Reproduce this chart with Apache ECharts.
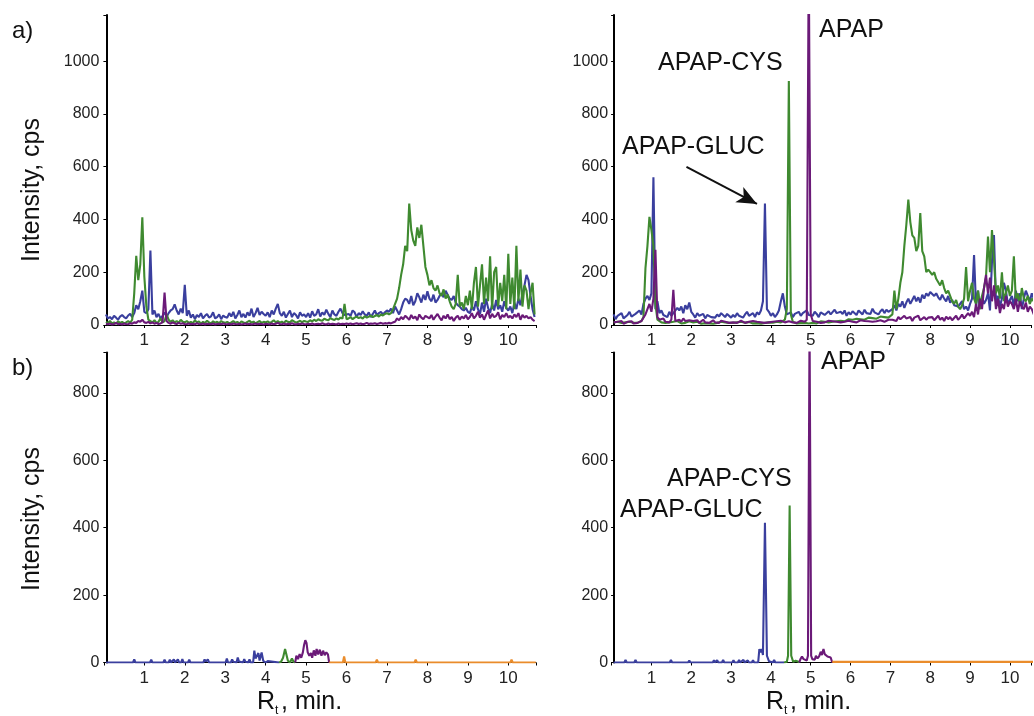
<!DOCTYPE html>
<html>
<head>
<meta charset="utf-8">
<script src="https://cdn.jsdelivr.net/npm/echarts@6/dist/echarts.min.js"></script>
<style>
html,body{margin:0;padding:0;background:#fff;}
#c{width:1034px;height:716px;}
</style>
</head>
<body>
<div id="c"></div>
<script>
// ---------- data ----------
// Top panels: uniform sampling, first time T0, step DT (min)
const T0 = 0.05, DT = 0.05;
const xTicks = [1,2,3,4,5,6,7,8,9,10];

// a) left (control)
const tlBlue = [
 40,25,30,22,35,28,20,32,38,30,25,36,42,30,45,75,60,90,130,50,
 45,60,282,40,55,30,42,25,35,48,30,45,55,60,78,55,40,62,45,152,
 35,55,28,40,22,38,30,45,25,35,42,28,33,48,25,30,40,22,36,30,
 28,45,32,50,25,38,55,30,42,28,48,35,62,30,45,65,38,50,42,35,
 48,30,55,40,62,80,45,35,50,28,42,55,30,45,38,25,48,35,40,30,
 45,28,52,35,40,60,32,48,38,58,42,30,55,40,35,50,62,45,38,40,
 42,35,55,48,30,45,38,52,40,35,48,30,42,55,38,45,50,40,48,55,
 50,62,45,70,55,40,60,85,100,95,80,110,75,90,120,105,85,115,95,128,
 100,90,115,85,95,110,120,105,130,115,100,95,110,85,75,70,60,55,65,50,
 45,70,55,90,60,40,85,50,100,65,45,80,55,95,60,75,50,90,65,55,
 70,45,85,60,100,75,120,150,190,170,110,60,30
];
const tlGreen = [
 12,8,15,6,10,5,14,8,12,6,10,15,8,20,120,262,170,230,408,183,
 70,20,15,10,18,8,12,25,10,15,40,20,12,18,10,15,8,20,12,10,
 15,8,12,6,18,10,14,5,12,8,16,10,6,14,9,12,7,15,10,8,
 12,6,10,15,8,12,5,14,10,7,12,16,9,13,6,11,15,8,12,10,
 14,8,12,18,10,15,9,13,7,16,12,10,18,14,9,12,16,11,15,13,
 12,18,14,20,15,22,18,16,24,20,18,26,22,19,25,21,28,24,80,22,
 25,30,22,28,32,26,30,24,34,28,32,36,30,34,38,32,40,36,42,45,
 40,45,60,80,100,140,190,230,300,280,460,360,320,300,370,330,380,300,220,190,
 150,170,140,130,150,120,110,135,100,115,90,70,60,80,190,70,85,60,110,75,
 130,60,160,220,70,150,230,80,180,90,260,60,200,220,70,160,90,190,60,270,
 80,180,60,300,90,210,70,150,130,60,120,160,40
];
const tlPurple = [
 5,3,6,2,4,8,3,5,2,6,4,3,7,5,10,8,15,12,20,10,
 8,12,6,10,5,8,4,6,10,123,15,8,5,10,6,4,8,5,7,3,
 4,6,3,5,2,7,4,3,6,2,5,4,3,6,2,4,5,3,6,4,
 3,5,2,6,4,3,5,2,4,6,3,5,2,4,6,3,5,4,2,5,
 4,2,6,3,5,8,4,3,6,2,5,3,7,4,2,5,3,6,4,3,
 5,3,6,2,4,5,3,7,4,2,6,3,5,4,2,6,3,5,4,6,
 4,6,3,5,7,4,6,3,5,8,4,6,5,7,4,6,8,5,7,6,
 8,6,10,12,25,18,30,22,35,28,20,38,25,32,18,40,28,22,35,30,
 25,38,20,32,42,28,18,35,25,40,22,30,15,28,35,20,32,25,38,22,
 30,45,25,35,50,28,40,20,38,55,25,42,30,35,48,22,38,30,45,28,
 35,25,40,30,45,20,38,28,35,25,30,20,15
];

// a) right (dosed)
const trBlue = [
 40,22,35,28,45,25,30,38,50,32,28,42,35,55,40,80,100,110,95,120,
 560,60,90,45,55,38,42,30,50,35,45,40,65,55,70,45,75,60,85,50,
 40,28,45,35,30,42,25,38,45,30,35,28,40,32,45,38,30,42,35,28,
 38,30,45,35,42,28,40,50,35,38,45,30,48,40,55,90,460,60,50,35,
 45,30,40,55,90,120,70,40,35,48,30,42,38,50,35,45,40,55,38,45,
 35,50,42,30,48,55,38,45,52,40,35,58,45,38,50,42,55,35,48,40,
 52,45,38,55,48,40,58,45,50,42,62,48,55,40,52,60,45,58,50,55,
 60,75,55,80,70,90,65,85,100,80,95,110,90,105,85,115,100,120,110,125,
 130,110,120,105,95,115,100,90,110,85,95,75,80,70,65,90,60,70,55,80,
 100,265,70,130,60,110,80,95,120,55,240,341,90,110,70,100,160,130,80,95,
 110,70,130,90,120,60,100,130,110,90,120,100,80
];
const trGreen = [
 10,6,12,5,8,4,10,7,12,5,9,6,8,10,15,30,215,300,410,360,
 300,80,20,15,10,12,8,14,10,6,12,8,15,10,6,12,8,10,14,8,
 10,6,12,8,5,10,7,12,6,9,5,10,8,6,12,7,10,5,8,6,
 8,5,10,6,12,7,9,5,11,8,6,10,7,12,5,9,8,6,10,7,
 9,6,12,8,10,8,20,60,925,40,12,10,6,9,7,10,8,12,6,9,
 8,12,6,10,14,8,12,16,10,14,12,18,14,10,16,20,14,18,22,16,
 20,16,24,18,22,26,20,24,28,22,26,30,24,28,32,26,30,35,28,32,
 40,130,60,100,160,200,300,380,475,390,340,330,280,300,424,280,260,200,210,200,
 190,200,175,180,150,170,140,120,130,110,90,80,95,70,60,75,100,220,90,130,
 160,100,80,130,60,110,140,180,335,200,360,250,120,150,100,200,90,120,150,110,
 130,260,90,120,80,140,100,90,110,80,100,90,70
];
const trPurple = [
 10,6,12,8,15,5,10,12,8,14,6,10,8,12,15,20,40,60,80,50,
 100,285,30,20,15,25,12,18,10,20,133,15,10,20,12,25,15,10,18,12,
 15,10,18,8,12,20,10,15,8,12,18,10,14,8,16,10,12,18,8,14,
 10,14,8,12,16,10,8,14,12,10,15,8,12,16,10,14,8,12,10,15,
 12,8,14,10,16,12,10,8,14,12,10,15,8,12,16,10,12,20,1400,40,
 15,10,12,18,8,14,10,12,16,10,14,8,12,15,10,14,12,8,16,10,
 12,16,10,14,18,12,15,10,14,18,12,16,14,10,18,15,12,16,20,14,
 20,25,15,30,22,18,35,25,20,30,15,28,22,35,18,25,30,20,28,22,
 30,18,25,35,20,28,15,32,22,30,18,25,35,20,28,40,25,30,45,35,
 50,30,80,40,100,60,140,190,120,180,90,150,60,100,45,80,60,110,70,90,
 80,60,100,50,90,70,60,85,50,70,60,40,30
];
// arrow annotation (data space): from label to APAP-GLUC peak
const arrowFrom = [1.88, 599];
const arrowTo = [3.65, 459];

// b) left: [time, intensity]
const blBlue = [[0.05,0],[0.72,0],[0.75,9],[0.78,0],[1.14,0],[1.17,8],[1.2,0],[1.47,0],[1.5,8],[1.53,0],
 [1.6,0],[1.63,8],[1.66,0],[1.7,0],[1.73,9],[1.76,0],[1.8,0],[1.83,9],[1.86,0],[1.91,0],[1.94,10],[1.97,0],
 [2.08,0],[2.11,8],[2.14,0],[2.46,0],[2.49,9],[2.52,3],[2.57,9],[2.6,0],[3.01,0],[3.04,12],[3.07,0],
 [3.14,0],[3.17,9],[3.2,2],[3.28,0],[3.31,15],[3.34,3],[3.44,0],[3.47,10],[3.5,2],[3.57,0],[3.6,9],[3.63,0],
 [3.69,0],[3.72,35],[3.75,12],[3.78,8],[3.82,28],[3.85,6],[3.9,30],[3.94,5],[4.0,0],[4.05,4],[4.08,0],[4.33,0]];
const blGreen = [[4.33,0],[4.38,2],[4.43,14],[4.48,40],[4.51,36],[4.55,5],[4.6,0],[4.65,12],[4.69,2],[4.73,0]];
const blPurple = [[4.73,0],[4.76,20],[4.8,10],[4.84,25],[4.88,14],[4.92,30],[4.95,52],[4.98,66],[5.01,58],[5.04,30],
 [5.08,20],[5.12,28],[5.15,14],[5.19,36],[5.23,20],[5.26,40],[5.3,24],[5.34,38],[5.38,20],[5.42,35],[5.46,22],[5.5,30],[5.54,24],[5.57,0]];
const blOrange = [[5.57,0],[5.91,0],[5.94,18],[5.97,0],[6.72,0],[6.75,8],[6.78,0],[7.68,0],[7.71,8],[7.74,0],[10.05,0],[10.08,8],[10.11,0],[10.68,0]];

// b) right
const brBlue = [[0.05,0],[0.32,0],[0.35,8],[0.38,0],[0.57,0],[0.6,8],[0.63,0],[1.46,0],[1.49,8],[1.52,0],[1.92,0],[1.95,6],[1.98,0],
 [2.54,0],[2.57,7],[2.6,0],[2.62,0],[2.65,7],[2.68,0],[2.77,0],[2.8,8],[2.83,0],[3.03,0],[3.06,7],[3.09,0],[3.17,0],[3.2,8],[3.23,0],
 [3.28,0],[3.31,8],[3.34,0],[3.39,0],[3.42,6],[3.45,0],[3.52,0],[3.55,7],[3.58,0],[3.68,0],[3.71,40],[3.74,30],[3.77,40],[3.8,22],
 [3.85,415],[3.9,20],[3.95,4],[4.05,0],[4.08,8],[4.11,0],[4.33,0]];
const brGreen = [[4.33,0],[4.4,2],[4.43,20],[4.47,466],[4.51,20],[4.56,2],[4.62,5],[4.65,10],[4.68,3],[4.71,0]];
const brPurple = [[4.71,0],[4.75,12],[4.78,18],[4.82,10],[4.86,15],[4.9,6],[4.93,20],[4.97,1000],[5.01,20],[5.04,10],[5.07,15],[5.1,8],
 [5.13,20],[5.17,12],[5.21,18],[5.25,32],[5.28,22],[5.32,40],[5.35,25],[5.38,30],[5.42,18],[5.46,22],[5.5,15],[5.54,0]];
const brOrange = [[5.54,2],[10.7,2]];

// ---------- styling ----------
const C = {blue:'#3a3f9e', green:'#3f8a30', purple:'#6b1a78', orange:'#ea8c2b'};
const FONT = '"Liberation Sans", Arial, Helvetica, sans-serif';

function pairs(ys){ return ys.map((y,i)=>[+(T0 + DT*i).toFixed(2), y]); }

const grids = [
  {left:103.9, top:15, width:431.9, height:310},
  {left:611.6, top:15, width:422.4, height:310},
  {left:103.9, top:352.5, width:431.9, height:310},
  {left:611.6, top:352.5, width:422.4, height:310}
];
function xAx(i, max){
  return {type:'value', gridIndex:i, min:0, max:max, interval:1,
    axisLine:{show:true, onZero:false, lineStyle:{color:'#000', width:1}},
    axisTick:{show:true, length:3, lineStyle:{color:'#000', width:1}},
    splitLine:{show:false},
    axisLabel:{fontSize:17, color:'#222', fontFamily:FONT, margin:7,
      formatter:v => (xTicks.indexOf(Math.round(v*1000)/1000) >= 0 ? String(v) : '')}
  };
}
function yAx(i, max, margin){
  return {type:'value', gridIndex:i, min:0, max:max, interval:200, offset:-2.5,
    axisLine:{show:true, onZero:false, lineStyle:{color:'#000', width:2}},
    axisTick:{show:true, length:3, lineStyle:{color:'#000', width:1}},
    splitLine:{show:false},
    axisLabel:{fontSize:16, color:'#222', fontFamily:FONT, margin:margin,
      formatter:v => (v % 200 === 0 ? String(v) : '')}
  };
}
function ln(i, data, color, extra){
  return Object.assign({type:'line', xAxisIndex:i, yAxisIndex:i, data:data, showSymbol:false, symbol:'none',
    clip:true, lineStyle:{color:color, width:2.1}, itemStyle:{color:color}, silent:true, z:2}, extra||{});
}

const series = [
  ln(0, pairs(tlBlue), C.blue),
  ln(0, pairs(tlGreen), C.green),
  ln(0, pairs(tlPurple), C.purple),
  ln(1, pairs(trBlue), C.blue, {markLine:{silent:true, animation:false, symbol:['none','arrow'], symbolSize:[13,20],
      lineStyle:{color:'#111', width:2, type:'solid'}, label:{show:false}, emphasis:{disabled:true},
      data:[[{coord:arrowFrom},{coord:arrowTo}]]}}),
  ln(1, pairs(trGreen), C.green),
  ln(1, pairs(trPurple), C.purple),
  ln(2, blBlue, C.blue), ln(2, blGreen, C.green), ln(2, blPurple, C.purple), ln(2, blOrange, C.orange),
  ln(3, brBlue, C.blue), ln(3, brGreen, C.green), ln(3, brPurple, C.purple), ln(3, brOrange, C.orange)
];

function txt(x, y, text, size, extra){
  return Object.assign({type:'text', x:x, y:y, silent:true, z:10,
    style:{text:text, font:size+'px '+FONT, fill:'#111', align:'left', verticalAlign:'middle',
      textAlign:'left', textVerticalAlign:'middle'}}, extra||{});
}
function rot(x, y, text){
  return {type:'text', x:x, y:y, rotation:Math.PI/2, silent:true, z:10,
    style:{text:text, font:'25px '+FONT, fill:'#111', align:'center', verticalAlign:'middle',
      textAlign:'center', textVerticalAlign:'middle'}};
}

const graphic = [
  txt(12, 31, 'a)', 24), txt(12, 368, 'b)', 24),
  rot(32, 190, 'Intensity, cps'), rot(32, 519, 'Intensity, cps'),
  txt(819, 30, 'APAP', 25), txt(658, 63, 'APAP-CYS', 25), txt(622, 147, 'APAP-GLUC', 25),
  txt(821, 362, 'APAP', 25), txt(667, 479, 'APAP-CYS', 25), txt(620, 510, 'APAP-GLUC', 25),
  txt(257, 702, 'R', 25), txt(275, 711, 't', 12), txt(281, 702, ', min.', 25),
  txt(766, 702, 'R', 25), txt(784, 711, 't', 12), txt(790, 702, ', min.', 25)
];

const chart = echarts.init(document.getElementById('c'), null, {renderer:'canvas'});
chart.setOption({
  animation:false,
  backgroundColor:'#fff',
  grid:grids,
  xAxis:[xAx(0,10.68), xAx(1,10.53), xAx(2,10.68), xAx(3,10.53)],
  yAxis:[yAx(0,1175,7), yAx(1,1175,6), yAx(2,920,7), yAx(3,920,6)],
  series:series,
  graphic:graphic
});
</script>
</body>
</html>
